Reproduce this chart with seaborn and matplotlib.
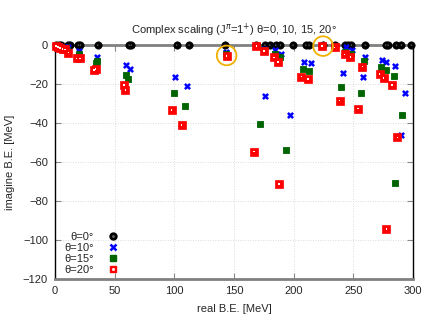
#!/usr/bin/python3

# imports
import matplotlib
matplotlib.use("Agg")
import matplotlib.pyplot as plt
from matplotlib.lines import Line2D
import seaborn as sns

# data (real B.E., imagine B.E.)
x_t0 = [1.0, 3.0, 5.5, 11.0, 12.5, 19.7, 21.4, 35.8, 62.2, 64.0, 101.9, 112.5,
        142.4, 168.9, 175.9, 180.1, 185.1, 189.0, 199.6, 210.2, 213.0, 224.7,
        234.5, 242.9, 245.6, 248.5, 260.2, 277.2, 279.2, 286.2, 290.4, 298.7]
y_t0 = [0.0] * len(x_t0)

x_t10 = [1.0, 4.0, 8.0, 11.2, 20.1, 34.9, 59.5, 62.8, 100.5, 111.1, 143.2, 169.0,
         175.5, 175.9, 184.3, 189.3, 197.4, 208.5, 214.2, 224.0, 234.5, 241.5,
         244.3, 249.3, 259.6, 258.2, 274.4, 277.8, 285.3, 289.8, 293.1]
y_t10 = [-0.2, -0.5, -0.8, -1.0, -2.9, -6.3, -10.3, -12.0, -16.6, -20.9, -3.6, -0.3,
         -1.8, -26.2, -2.6, -4.3, -36.1, -8.5, -9.1, -0.3, -0.7, -14.5,
         -0.9, -2.6, -6.0, -16.6, -7.4, -8.5, -10.6, -46.3, -24.4]

x_t15 = [2.0, 6.0, 10.0, 20.1, 34.3, 34.9, 59.5, 60.9, 99.7, 108.9, 143.5, 169.0,
         175.4, 171.7, 184.3, 188.4, 193.5, 208.0, 213.0, 224.0, 234.5, 240.1,
         243.5, 248.5, 258.8, 256.9, 273.6, 277.2, 284.2, 284.8, 290.9]
y_t15 = [-0.4, -1.4, -2.5, -4.6, -9.4, -8.2, -15.4, -17.6, -24.8, -31.0, -4.6, -0.4,
         -2.5, -40.3, -4.6, -6.0, -54.0, -12.3, -13.2, -0.4, -1.0, -21.7,
         -3.4, -4.3, -8.2, -24.8, -11.4, -12.8, -15.9, -70.6, -36.1]

x_t20 = [0.8, 2.5, 4.2, 6.5, 8.4, 11.2, 18.2, 20.9, 32.9, 34.1, 58.0, 58.9, 97.7,
         106.1, 143.8, 166.9, 168.9, 175.3, 183.7, 187.0, 187.9, 206.6, 212.2,
         223.9, 234.5, 238.7, 242.9, 247.7, 257.7, 254.1, 272.2, 275.5, 282.5,
         287.0, 277.8]
y_t20 = [-0.5, -1.0, -1.4, -2.0, -2.2, -3.9, -6.8, -6.8, -12.8, -12.3, -20.5, -23.1,
         -33.3, -40.9, -5.6, -54.7, -0.5, -3.1, -6.2, -8.7, -71.3, -16.2, -17.3,
         -0.5, -1.2, -28.5, -4.8, -6.0, -11.1, -32.6, -14.9, -16.8, -20.5,
         -47.3, -94.4]

# circled resonances
x_mark = [143.9, 224.7]
y_mark = [-5.3, -0.5]

labels = ["θ=0°", "θ=10°", "θ=15°", "θ=20°"]

sns.set_style("white")
plt.rcParams["font.family"] = ["Liberation Sans", "DejaVu Sans"]

fig = plt.figure(figsize=(4.36, 3.27), dpi=100)
ax = fig.add_axes([0.126, 0.147, 0.821, 0.715])

green = "#006400"

sns.scatterplot(x=x_t0, y=y_t0, ax=ax, marker="o", s=28, color="black",
                edgecolor="black", linewidth=0.5, clip_on=False, zorder=3)
sns.scatterplot(x=x_t0, y=y_t0, ax=ax, marker="o", s=1.2, color="#666666",
                edgecolor="none", linewidth=0, clip_on=False, zorder=3)
sns.scatterplot(x=x_t10, y=y_t10, ax=ax, marker="x", s=14, color="blue",
                linewidth=1.8, clip_on=False, zorder=4)
sns.scatterplot(x=x_t15, y=y_t15, ax=ax, marker="s", s=16, color=green,
                edgecolor=green, linewidth=0.6, clip_on=False, zorder=5)
sns.scatterplot(x=x_t20, y=y_t20, ax=ax, marker="s", s=26, color="red",
                edgecolor="red", linewidth=0.5, clip_on=False, zorder=6)
sns.scatterplot(x=x_t20, y=y_t20, ax=ax, marker="s", s=1.0, color="white",
                edgecolor="none", linewidth=0, clip_on=False, zorder=6)
sns.scatterplot(x=x_mark, y=y_mark, ax=ax, marker="o", s=200,
                facecolor="none", edgecolor="#f0b000", linewidth=1.3,
                clip_on=False, zorder=7)

ax.set_xlim(0, 300)
ax.set_ylim(-120, 0)
ax.set_xticks(range(0, 301, 50))
ax.set_yticks(range(-120, 1, 20))
ax.tick_params(direction="in", length=4, color="#888888", labelsize=8,
               pad=5, right=True, top=True, bottom=True, left=True)
ax.grid(True, linestyle=(0, (1, 2)), color="#d0d0d0", linewidth=0.6)

for side in ["left", "right"]:
    ax.spines[side].set_color("black")
    ax.spines[side].set_linewidth(1.0)
for side in ["top", "bottom"]:
    ax.spines[side].set_color("#808080")
    ax.spines[side].set_linewidth(2.0)

ax.set_title("Complex scaling (J$^{\\pi}$=1$^{+}$) θ=0, 10, 15, 20°",
             fontsize=8, pad=8)
ax.set_xlabel("real B.E. [MeV]", fontsize=8, labelpad=6)
ax.set_ylabel("imagine B.E. [MeV]", fontsize=8, labelpad=6)

# legend like gnuplot: text right aligned, marker after
h0 = (Line2D([], [], ls="none", marker="o", ms=5.0, color="black"),
      Line2D([], [], ls="none", marker="o", ms=1.0, color="#666666"))
h1 = Line2D([], [], ls="none", marker="x", ms=3.8, mew=1.8, color="blue")
h2 = Line2D([], [], ls="none", marker="s", ms=4.0, color=green)
h3 = (Line2D([], [], ls="none", marker="s", ms=5.0, color="red"),
      Line2D([], [], ls="none", marker="s", ms=1.0, color="white"))
ax.legend([h0, h1, h2, h3], labels, loc="lower left",
          bbox_to_anchor=(0.005, -0.015), markerfirst=False, frameon=False,
          fontsize=8, labelspacing=0.08, handlelength=1.0,
          handletextpad=1.2, borderpad=0.2)

fig.savefig("out.png", dpi=100)
